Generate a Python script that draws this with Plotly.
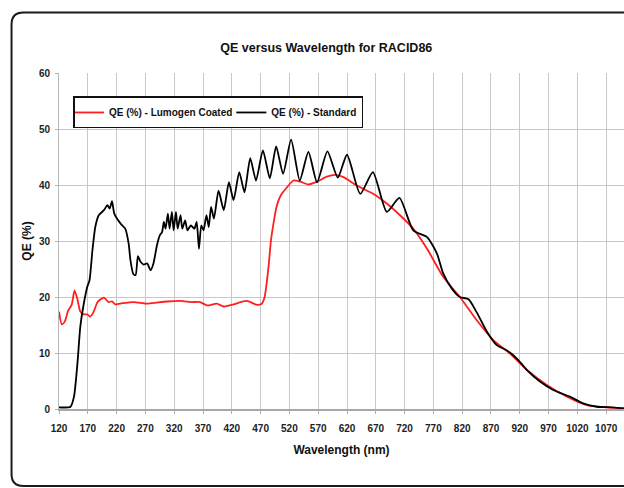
import plotly.graph_objects as go

# ---- data ----
red_nm = [120, 125, 130, 136, 142, 147, 152, 157, 163, 169, 174, 180, 187, 198, 206, 212, 218,
          230, 250, 273, 290, 308, 331, 350, 365, 377, 394, 406, 423, 446, 464, 472, 477,
          484, 488, 493, 497, 501, 506, 516, 527, 539, 553, 568, 585, 600, 614, 637, 666,
          689, 712, 735, 759, 787, 816, 845, 874, 903, 932, 967, 1002, 1036, 1071, 1101]
red_qe = [17.4, 15.1, 15.6, 17.6, 18.6, 21.2, 19.6, 17.4, 16.9, 16.9, 16.5, 17.3, 19.1, 19.9, 19.1, 19.2, 18.7,
          18.9, 19.1, 18.8, 19.0, 19.2, 19.3, 19.1, 19.1, 18.5, 18.8, 18.3, 18.7, 19.3, 18.6, 18.8, 20.0,
          25.6, 30.1, 33.5, 35.8, 37.2, 38.3, 39.6, 40.8, 40.6, 40.1, 40.6, 41.5, 41.8, 41.4, 39.9, 38.4,
          36.7, 34.6, 32.2, 28.6, 23.6, 20.0, 15.9, 12.3, 9.9, 7.0, 4.3, 2.2, 0.7, 0.3, 0.1]

blk_nm = [120, 140, 146, 152, 157, 163, 169, 173, 178, 183, 189, 198, 204, 208, 212, 216, 227, 235,
          241, 244, 249, 253, 257, 261, 267, 273, 279, 284, 290, 295, 299, 302, 305, 309, 312, 316,
          319, 323, 326, 331, 334, 339, 343, 349, 355, 359, 363, 367, 371, 376, 380, 384, 389, 397,
          406, 415, 423, 433, 442, 452, 462, 474, 486, 497, 509, 523, 538, 553, 568, 586, 604, 620,
          643, 665, 689, 711, 735, 759, 776, 787, 802, 816, 831, 845, 863, 880, 897, 915, 932, 955,
          978, 1007, 1030, 1054, 1082, 1101]
blk_qe = [0.3, 0.4, 2.2, 8.1, 14.7, 18.8, 21.8, 23.0, 28.3, 32.5, 34.6, 35.5, 36.4, 35.8, 37.1, 34.9, 33.1, 32.2,
          29.5, 26.6, 24.1, 23.9, 27.3, 26.4, 25.8, 26.0, 24.8, 26.0, 29.2, 31.0, 31.6, 33.4, 32.2, 34.9, 32.2, 35.2,
          31.9, 35.2, 32.2, 34.6, 32.2, 33.7, 31.9, 32.8, 32.2, 33.4, 28.6, 32.8, 31.9, 34.6, 32.5, 36.1, 34.0, 39.0,
          35.5, 40.5, 37.3, 42.3, 38.7, 44.8, 40.8, 46.2, 41.2, 46.9, 42.0, 48.1, 40.8, 45.9, 40.5, 46.0, 41.3, 45.4,
          38.4, 42.3, 35.2, 37.7, 31.9, 30.7, 27.8, 24.2, 21.5, 20.0, 19.6, 17.3, 13.8, 11.4, 10.5, 9.0, 7.0, 4.9,
          3.4, 2.2, 1.0, 0.4, 0.3, 0.1]

x_ticks = list(range(120, 1071, 50))
y_ticks = [0, 10, 20, 30, 40, 50, 60]

# ---- layout geometry (pixels) ----
W, H = 624, 488
L, R, T, B = 58.5, 0, 72.5, 79
pw, ph = W - L - R, H - T - B


def px2paper(x, y):
    return (x - L) / pw, (H - B - y) / ph


def frame_path():
    r = 12
    left, top, bottom, right = 11, 12, 486, 660
    p = lambda x, y: "%.5f,%.5f" % px2paper(x, y)
    return ("M " + p(right, top) + " L " + p(left + r, top) +
            " Q " + p(left, top) + " " + p(left, top + r) +
            " L " + p(left, bottom - r) +
            " Q " + p(left, bottom) + " " + p(left + r, bottom) +
            " L " + p(right, bottom))


FONT = "Arial, Liberation Sans, Helvetica, sans-serif"

fig = go.Figure()
fig.add_trace(go.Scatter(x=red_nm, y=red_qe, mode="lines", name="<b>QE (%) - Lumogen Coated</b>",
                         line=dict(color="#ff1f1f", width=1.8, shape="spline", smoothing=0.6)))
fig.add_trace(go.Scatter(x=blk_nm, y=blk_qe, mode="lines", name="<b>QE (%) - Standard</b>",
                         line=dict(color="#000000", width=1.8, shape="spline", smoothing=0.6)))

fig.update_layout(
    width=W, height=H,
    margin=dict(l=L, r=R, t=T, b=B, pad=0),
    paper_bgcolor="white", plot_bgcolor="white",
    font=dict(family=FONT, color="#222222"),
    title=dict(text="<b>QE versus Wavelength for RACID86</b>",
               x=(326 - L) / pw, xref="paper", xanchor="center",
               y=1 - 48 / H, yref="container", yanchor="middle",
               font=dict(size=12.5, color="#111111")),
    showlegend=True,
    legend=dict(orientation="h", x=px2paper(73, 96)[0], y=px2paper(73, 96)[1],
                xanchor="left", yanchor="top",
                bgcolor="white", bordercolor="#111111", borderwidth=1.5,
                font=dict(size=10, color="#111111"), tracegroupgap=0,
                itemwidth=30, indentation=-6),
    shapes=[dict(type="path", xref="paper", yref="paper", path=frame_path(),
                 line=dict(color="#1a1a1a", width=2), layer="above")],
)

fig.update_xaxes(
    range=[120, 120 + pw / 0.5765], tickmode="array", tickvals=x_ticks,
    ticktext=["<b>%d</b>" % v for v in x_ticks],
    showgrid=True, gridcolor="#c8c8c8", gridwidth=1,
    showline=True, linecolor="#a8a8a8", linewidth=2,
    ticks="outside", ticklen=3, tickcolor="#b0b0b0",
    ticklabelstandoff=6,
    tickfont=dict(size=10, color="#222222"),
    title=dict(text="<b>Wavelength (nm)</b>", font=dict(size=12, color="#111111"), standoff=13),
    zeroline=False,
)
fig.update_yaxes(
    range=[0, 60], tickmode="array", tickvals=y_ticks,
    ticktext=["<b>%d</b>" % v for v in y_ticks],
    showgrid=True, gridcolor="#c8c8c8", gridwidth=1,
    showline=True, linecolor="#b8b8b8", linewidth=1,
    ticks="outside", ticklen=3, tickcolor="#b0b0b0",
    ticklabelstandoff=3,
    tickfont=dict(size=10, color="#222222"),
    title=dict(text="<b>QE (%)</b>", font=dict(size=12, color="#111111"), standoff=4),
    zeroline=False,
)

fig.write_html("out.html", config={"displayModeBar": False},
               post_script="document.body.style.margin='0';document.body.style.padding='0';")
